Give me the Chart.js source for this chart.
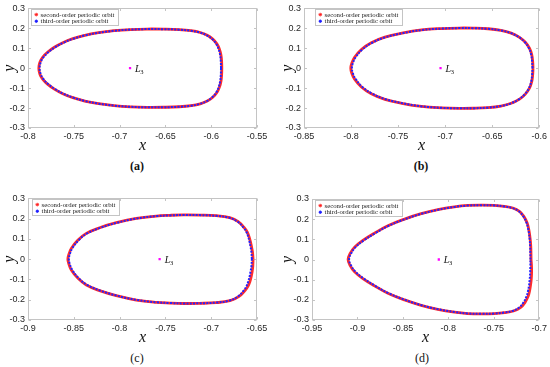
<!DOCTYPE html>
<html><head><meta charset="utf-8">
<script src="https://cdn.jsdelivr.net/npm/chart.js@4.4.1/dist/chart.umd.min.js"></script>
<style>
html,body{margin:0;padding:0;background:#fff;}
#wrap{position:relative;width:550px;height:367px;overflow:hidden;background:#fff;}
canvas{position:absolute;}
.cap{position:absolute;font-family:"Liberation Serif","DejaVu Serif",serif;font-size:12px;color:#111;transform:translate(-50%,-50%);white-space:nowrap;}
</style></head><body>
<div id="wrap">
<canvas id="ca" width="275" height="155" style="left:0;top:0"></canvas>
<canvas id="cb" width="275" height="155" style="left:275px;top:0"></canvas>
<canvas id="cc" width="275" height="157" style="left:0;top:190px"></canvas>
<canvas id="cd" width="275" height="157" style="left:275px;top:190px"></canvas>
</div>
<script>
// ---------- data ----------
const seriesLabels = ['second-order periodic orbit', 'third-order periodic orbit'];
const captions = ['(a)', '(b)', '(c)', '(d)'];
const pointLabel = 'L';
const pointSub = '3';
const yTicks = [-0.3, -0.2, -0.1, 0, 0.1, 0.2, 0.3];
const xTicksA = [-0.8, -0.75, -0.7, -0.65, -0.6, -0.55];
const xTicksB = [-0.85, -0.8, -0.75, -0.7, -0.65, -0.6];
const xTicksC = [-0.9, -0.85, -0.8, -0.75, -0.7, -0.65];
const xTicksD = [-0.95, -0.9, -0.85, -0.8, -0.75, -0.7];
const L3A = [-0.6886, 0];
const L3B = [-0.7049, 0];
const L3C = [-0.7563, 0];
const L3D = [-0.8105, 0];

const orbitA2 = [[-0.5884,0],[-0.5886,0.033],[-0.5893,0.065],[-0.5910,0.095],[-0.5938,0.122],[-0.5983,0.146],[-0.6043,0.165],[-0.6120,0.179],[-0.6220,0.188],[-0.6350,0.1935],[-0.6520,0.1960],[-0.6700,0.1965],[-0.6880,0.1940],[-0.7060,0.1880],[-0.7230,0.1780],[-0.7380,0.1650],[-0.7510,0.1480],[-0.7620,0.1280],[-0.7712,0.1050],[-0.7787,0.0800],[-0.7840,0.0550],[-0.7870,0.0300],[-0.7882,0],
 [-0.7870,-0.0300],[-0.7840,-0.0550],[-0.7787,-0.0800],[-0.7712,-0.1050],[-0.7620,-0.1280],[-0.7510,-0.1480],[-0.7380,-0.1650],[-0.7230,-0.1780],[-0.7060,-0.1880],[-0.6880,-0.1940],[-0.6700,-0.1965],[-0.6520,-0.1960],[-0.6350,-0.1935],[-0.6220,-0.1880],[-0.6120,-0.1790],[-0.6043,-0.1650],[-0.5983,-0.1460],[-0.5938,-0.1220],[-0.5910,-0.0950],[-0.5893,-0.0650],[-0.5886,-0.0330],[-0.5884,0]];
const orbitA3 = [[-0.5893,0],[-0.5895,0.033],[-0.5902,0.065],[-0.5918,0.095],[-0.5945,0.122],[-0.5989,0.146],[-0.6048,0.165],[-0.6124,0.179],[-0.6223,0.188],[-0.6352,0.1935],[-0.6520,0.1958],[-0.6700,0.1962],[-0.6880,0.1938],[-0.7058,0.1878],[-0.7227,0.1778],[-0.7376,0.1648],[-0.7505,0.1478],[-0.7614,0.1278],[-0.7705,0.1048],[-0.7779,0.0800],[-0.7831,0.0550],[-0.7861,0.0300],[-0.7873,0],
 [-0.7861,-0.0300],[-0.7831,-0.0550],[-0.7779,-0.0800],[-0.7705,-0.1048],[-0.7614,-0.1278],[-0.7505,-0.1478],[-0.7376,-0.1648],[-0.7227,-0.1778],[-0.7058,-0.1878],[-0.6880,-0.1938],[-0.6700,-0.1962],[-0.6520,-0.1958],[-0.6352,-0.1935],[-0.6223,-0.1880],[-0.6124,-0.1790],[-0.6048,-0.1650],[-0.5989,-0.1460],[-0.5945,-0.1220],[-0.5918,-0.0950],[-0.5902,-0.0650],[-0.5895,-0.0330],[-0.5893,0]];

const orbitB2 = [[-0.6066,0],[-0.6070,0.035],[-0.6080,0.068],[-0.6104,0.100],[-0.6148,0.130],[-0.6210,0.155],[-0.6298,0.176],[-0.6408,0.190],[-0.6548,0.198],[-0.6700,0.2010],[-0.6850,0.2015],[-0.7040,0.1990],[-0.7250,0.1920],[-0.7460,0.1760],[-0.7640,0.1560],[-0.7785,0.1280],[-0.7890,0.0940],[-0.7962,0.0550],[-0.7992,0.0250],[-0.8003,0],
 [-0.7992,-0.0250],[-0.7962,-0.0550],[-0.7890,-0.0940],[-0.7785,-0.1280],[-0.7640,-0.1560],[-0.7460,-0.1760],[-0.7250,-0.1920],[-0.7040,-0.1990],[-0.6850,-0.2015],[-0.6700,-0.2010],[-0.6548,-0.1980],[-0.6408,-0.1900],[-0.6298,-0.1760],[-0.6210,-0.1550],[-0.6148,-0.1300],[-0.6104,-0.1000],[-0.6080,-0.0680],[-0.6070,-0.0350],[-0.6066,0]];
const orbitB3 = [[-0.6072,0],[-0.6076,0.035],[-0.6086,0.068],[-0.6109,0.100],[-0.6152,0.130],[-0.6213,0.155],[-0.6300,0.176],[-0.6410,0.1898],[-0.6549,0.1978],[-0.6700,0.2008],[-0.6850,0.2012],[-0.7040,0.1987],[-0.7248,0.1916],[-0.7455,0.1755],[-0.7633,0.1555],[-0.7776,0.1276],[-0.7880,0.0937],[-0.7951,0.0548],[-0.7981,0.0249],[-0.7991,0],
 [-0.7981,-0.0249],[-0.7951,-0.0548],[-0.7880,-0.0937],[-0.7776,-0.1276],[-0.7633,-0.1555],[-0.7455,-0.1755],[-0.7248,-0.1916],[-0.7040,-0.1987],[-0.6850,-0.2012],[-0.6700,-0.2008],[-0.6549,-0.1978],[-0.6410,-0.1898],[-0.6300,-0.1760],[-0.6213,-0.1550],[-0.6152,-0.1300],[-0.6109,-0.1000],[-0.6086,-0.0680],[-0.6076,-0.0350],[-0.6072,0]];

const orbitC2 = [[-0.6543,0],[-0.6549,0.035],[-0.6560,0.062],[-0.6572,0.087],[-0.6587,0.111],[-0.6606,0.133],[-0.6633,0.152],[-0.6705,0.185],[-0.6798,0.2047],[-0.6944,0.2145],[-0.7126,0.2178],[-0.7300,0.2185],[-0.7450,0.2165],[-0.7599,0.2129],[-0.7817,0.2014],[-0.8036,0.1800],[-0.8218,0.1553],[-0.8363,0.1274],[-0.8454,0.0945],[-0.8527,0.0534],[-0.8556,0.0205],[-0.8565,0],
 [-0.8556,-0.0205],[-0.8527,-0.0534],[-0.8454,-0.0945],[-0.8363,-0.1274],[-0.8218,-0.1553],[-0.8036,-0.1800],[-0.7817,-0.2014],[-0.7599,-0.2129],[-0.7450,-0.2165],[-0.7300,-0.2185],[-0.7126,-0.2178],[-0.6944,-0.2145],[-0.6795,-0.2047],[-0.6700,-0.1850],[-0.6627,-0.1520],[-0.6598,-0.1330],[-0.6578,-0.1110],[-0.6564,-0.0870],[-0.6553,-0.0620],[-0.6546,-0.0350],[-0.6543,0]];
const orbitC3 = [[-0.6556,0],[-0.6561,0.035],[-0.6571,0.062],[-0.6582,0.087],[-0.6596,0.111],[-0.6614,0.133],[-0.6640,0.152],[-0.6710,0.1845],[-0.6801,0.2042],[-0.6946,0.2141],[-0.7127,0.2175],[-0.7300,0.2182],[-0.7450,0.2162],[-0.7598,0.2126],[-0.7814,0.2010],[-0.8031,0.1796],[-0.8211,0.1549],[-0.8355,0.1271],[-0.8445,0.0943],[-0.8517,0.0533],[-0.8546,0.0205],[-0.8554,0],
 [-0.8546,-0.0205],[-0.8517,-0.0533],[-0.8445,-0.0943],[-0.8355,-0.1271],[-0.8211,-0.1549],[-0.8031,-0.1796],[-0.7814,-0.2010],[-0.7598,-0.2126],[-0.7450,-0.2162],[-0.7300,-0.2182],[-0.7127,-0.2175],[-0.6946,-0.2141],[-0.6801,-0.2042],[-0.6710,-0.1845],[-0.6640,-0.1520],[-0.6614,-0.1330],[-0.6596,-0.1110],[-0.6582,-0.0870],[-0.6571,-0.0620],[-0.6561,-0.0350],[-0.6556,0]];

const orbitD2 = [[-0.7090,0],[-0.7091,0.032],[-0.7093,0.0646],[-0.7099,0.098],[-0.7108,0.1309],[-0.7119,0.157],[-0.7133,0.1807],[-0.7170,0.2138],[-0.7218,0.2387],[-0.7291,0.2552],[-0.7384,0.2635],[-0.7494,0.2685],[-0.7641,0.2700],[-0.7787,0.2680],[-0.7933,0.2610],[-0.8116,0.2470],[-0.8299,0.2271],[-0.8482,0.2005],[-0.8665,0.1674],[-0.8812,0.1309],[-0.8940,0.0945],[-0.9031,0.0613],[-0.9080,0.0300],[-0.9103,0],
 [-0.9080,-0.0300],[-0.9031,-0.0613],[-0.8940,-0.0945],[-0.8812,-0.1309],[-0.8665,-0.1674],[-0.8482,-0.2005],[-0.8299,-0.2271],[-0.8116,-0.2470],[-0.7933,-0.2610],[-0.7787,-0.2680],[-0.7641,-0.2700],[-0.7494,-0.2685],[-0.7380,-0.2635],[-0.7283,-0.2552],[-0.7208,-0.2387],[-0.7158,-0.2138],[-0.7121,-0.1807],[-0.7107,-0.1570],[-0.7097,-0.1309],[-0.7088,-0.0980],[-0.7084,-0.0646],[-0.7085,-0.0320],[-0.7090,0]];
const orbitD3 = [[-0.7097,0],[-0.7098,0.032],[-0.7100,0.0646],[-0.7105,0.098],[-0.7113,0.1309],[-0.7124,0.157],[-0.7138,0.1805],[-0.7174,0.2134],[-0.7221,0.2383],[-0.7293,0.2548],[-0.7385,0.2631],[-0.7494,0.2681],[-0.7641,0.2696],[-0.7786,0.2676],[-0.7931,0.2606],[-0.8113,0.2466],[-0.8295,0.2267],[-0.8477,0.2001],[-0.8658,0.1670],[-0.8804,0.1306],[-0.8931,0.0943],[-0.9021,0.0612],[-0.9070,0.0300],[-0.9092,0],
 [-0.9070,-0.0300],[-0.9021,-0.0612],[-0.8931,-0.0943],[-0.8804,-0.1306],[-0.8658,-0.1670],[-0.8477,-0.2001],[-0.8295,-0.2267],[-0.8113,-0.2466],[-0.7931,-0.2606],[-0.7786,-0.2676],[-0.7641,-0.2696],[-0.7494,-0.2681],[-0.7385,-0.2631],[-0.7293,-0.2548],[-0.7221,-0.2383],[-0.7174,-0.2134],[-0.7138,-0.1805],[-0.7124,-0.1570],[-0.7113,-0.1309],[-0.7105,-0.0980],[-0.7100,-0.0646],[-0.7098,-0.0320],[-0.7097,0]];

// ---------- layout / style ----------
const panels = [
  {id:'ca', xT:xTicksA, red:orbitA2, blue:orbitA3, pt:L3A, cap:captions[0], pad:{top:7,right:18,left:0,bottom:0}, yW:28, xH:27, yTitlePad:0, lg:{dx:2.7,dy:0.3}, capPos:[137,166], capBold:true},
  {id:'cb', xT:xTicksB, red:orbitB2, blue:orbitB3, pt:L3B, cap:captions[1], pad:{top:7,right:10,left:0,bottom:0}, yW:29, xH:27, yTitlePad:3, lg:{dx:11,dy:0.3}, capPos:[421,166], capBold:true},
  {id:'cc', xT:xTicksC, red:orbitC2, blue:orbitC3, pt:L3C, cap:captions[2], pad:{top:8,right:18,left:0,bottom:0}, yW:28, xH:27, yTitlePad:0, lg:{dx:3.7,dy:1}, capPos:[137,358], capBold:false},
  {id:'cd', xT:xTicksD, red:orbitD2, blue:orbitD3, pt:L3D, cap:captions[3], pad:{top:9,right:10,left:0,bottom:0}, yW:37, xH:27, yTitlePad:3, lg:{dx:3,dy:0.7}, capPos:[422,358], capBold:false}
];

const frameColor = '#c4c4c4';
const tickText = '#262626';

const framePlugin = {
  id: 'frame',
  beforeDatasetsDraw(chart) {
    const {ctx, chartArea: a} = chart;
    ctx.save();
    ctx.strokeStyle = frameColor; ctx.lineWidth = 1;
    const L = Math.round(a.left) + 0.5, R = Math.round(a.right) - 0.5, T = Math.round(a.top) + 0.5, B = Math.round(a.bottom) - 0.5;
    ctx.strokeRect(L, T, R - L, B - T);
    const xs = chart.scales.x, ys = chart.scales.y;
    ctx.beginPath();
    xs.ticks.forEach(t => { const p = Math.round(xs.getPixelForValue(t.value)) + 0.5; ctx.moveTo(p, B); ctx.lineTo(p, B - 2.5); ctx.moveTo(p, T); ctx.lineTo(p, T + 2.5); });
    ys.ticks.forEach(t => { const p = Math.round(ys.getPixelForValue(t.value)) + 0.5; ctx.moveTo(L, p); ctx.lineTo(L + 2.5, p); ctx.moveTo(R, p); ctx.lineTo(R - 2.5, p); });
    ctx.stroke();
    ctx.restore();
  }
};

const legendPlugin = {
  id: 'boxLegend',
  afterDatasetsDraw(chart, args, opts) {
    const {ctx, chartArea: a} = chart;
    const items = chart.data.datasets.filter(d => d.legendText).sort((p, q) => p.legendIndex - q.legendIndex);
    ctx.save();
    ctx.font = '6.8px "Liberation Serif", serif';
    const tw = Math.max(...items.map(d => ctx.measureText(d.legendText).width));
    const x0 = Math.round(a.left + opts.dx), y0 = Math.round(a.top + opts.dy);
    const w = Math.round(tw + 13), h = 16;
    ctx.fillStyle = '#fff'; ctx.fillRect(x0, y0, w, h);
    ctx.strokeStyle = frameColor; ctx.lineWidth = 1; ctx.strokeRect(x0 + 0.5, y0 + 0.5, w, h);
    items.forEach((d, i) => {
      const yy = y0 + 5.6 + i * 6.6;
      ctx.strokeStyle = d.legendColor; ctx.fillStyle = d.legendColor; ctx.lineWidth = 0.9;
      if (Chart.helpers && Chart.helpers.drawPoint) {
        Chart.helpers.drawPoint(ctx, {pointStyle: d.legendMarker, radius: d.legendMarker === 'star' ? 1.8 : 1.2, borderWidth: 0.9, rotation: 0}, x0 + 5.3, yy);
      } else { ctx.fillRect(x0 + 4.3, yy - 1, 2, 2); }
      ctx.fillStyle = '#222'; ctx.textBaseline = 'middle'; ctx.textAlign = 'left';
      ctx.fillText(d.legendText, x0 + 9.5, yy + 0.3);
    });
    ctx.restore();
  }
};

const pointLabelPlugin = {
  id: 'ptLabel',
  afterDatasetsDraw(chart) {
    const {ctx} = chart;
    chart.data.datasets.forEach((d, i) => {
      if (!d.ptLabel) return;
      const el = chart.getDatasetMeta(i).data[0];
      if (!el) return;
      ctx.save();
      ctx.fillStyle = '#111'; ctx.textBaseline = 'alphabetic'; ctx.textAlign = 'left';
      ctx.font = 'italic 10px "Liberation Serif", serif';
      const x = el.x + 5, y = el.y + 3.6;
      ctx.fillText(d.ptLabel, x, y);
      const lw = ctx.measureText(d.ptLabel).width;
      ctx.font = '6.5px "Liberation Serif", serif';
      ctx.fillText(d.ptSub, x + lw - 0.3, y + 1.8);
      ctx.restore();
    });
  }
};

panels.forEach(p => {
  const toXY = arr => arr.map(q => ({x: q[0], y: q[1]}));
  new Chart(document.getElementById(p.id), {
    type: 'scatter',
    data: {
      datasets: [
        {data: [{x: p.pt[0], y: p.pt[1]}], order: 0, showLine: false, pointStyle: 'rect', pointRadius: 1.6, backgroundColor: '#ff00ff', borderColor: '#ff00ff', borderWidth: 0,
         ptLabel: pointLabel, ptSub: pointSub},
        {data: toXY(p.blue), order: 1, showLine: true, borderColor: 'rgb(35,35,255)', borderWidth: 2, borderDash: [2, 1.3], pointRadius: 0, tension: 0.4, fill: false,
         legendText: seriesLabels[1], legendIndex: 1, legendColor: 'rgb(30,30,255)', legendMarker: 'circle'},
        {data: toXY(p.red), order: 2, showLine: true, borderColor: 'rgb(255,45,45)', borderWidth: 2.8, pointRadius: 0, tension: 0.4, fill: false,
         legendText: seriesLabels[0], legendIndex: 0, legendColor: 'rgb(255,30,30)', legendMarker: 'star'}
      ]
    },
    options: {
      responsive: false, animation: false, devicePixelRatio: 1,
      layout: {padding: p.pad},
      plugins: {legend: {display: false}, tooltip: {enabled: false}, boxLegend: p.lg},
      scales: {
        x: {
          type: 'linear', min: p.xT[0], max: p.xT[p.xT.length - 1],
          afterBuildTicks: s => { s.ticks = p.xT.map(v => ({value: v})); },
          afterFit: s => { s.height = p.xH; },
          grid: {display: false, drawTicks: false}, border: {display: false},
          ticks: {padding: 3, maxRotation: 0, autoSkip: false, color: tickText, font: {family: '"Liberation Sans", Arial, sans-serif', size: 9}, callback: v => String(+(+v).toFixed(2))},
          title: {display: true, text: 'x', color: '#111', padding: 0, font: {family: '"Liberation Serif", serif', style: 'italic', size: 16}}
        },
        y: {
          type: 'linear', min: yTicks[0], max: yTicks[yTicks.length - 1],
          afterBuildTicks: s => { s.ticks = yTicks.map(v => ({value: v})); },
          afterFit: s => { s.width = p.yW; },
          grid: {display: false, drawTicks: false}, border: {display: false},
          ticks: {padding: 3, autoSkip: false, color: tickText, font: {family: '"Liberation Sans", Arial, sans-serif', size: 9}, callback: v => String(+(+v).toFixed(2))},
          title: {display: true, text: 'y', color: '#111', padding: {top: p.yTitlePad, bottom: 0}, font: {family: '"Liberation Serif", serif', style: 'italic', size: 16}}
        }
      }
    },
    plugins: [framePlugin, legendPlugin, pointLabelPlugin]
  });
  const c = document.createElement('div');
  c.className = 'cap'; c.textContent = p.cap;
  c.style.left = p.capPos[0] + 'px'; c.style.top = p.capPos[1] + 'px';
  c.style.fontWeight = p.capBold ? 'bold' : 'normal';
  document.getElementById('wrap').appendChild(c);
});
</script>
</body></html>
